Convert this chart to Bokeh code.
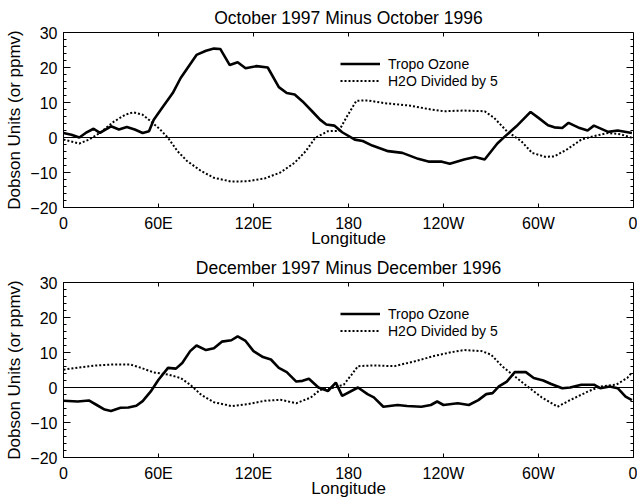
import math
from bokeh.plotting import figure
from bokeh.models import Range1d, FixedTicker, Span
from bokeh.layouts import column
from bokeh.embed import file_html
from bokeh.resources import INLINE

FONT = "Liberation Sans"

# Longitude ticks and labels
x_ticks = [0, 60, 120, 180, 240, 300, 360]
x_tick_labels = ["0", "60E", "120E", "180", "120W", "60W", "0"]
y_ticks = [-20, -10, 0, 10, 20, 30]
y_minor_ticks = list(range(-20, 31, 2))

# ---- Panel 1: October 1997 minus October 1996 ----
oct_ozone_lon = [0, 5, 10, 14, 19, 23, 30, 35, 40, 45, 50, 54, 57, 63, 69, 74, 79, 84, 90, 95,
                 99, 105, 110, 115, 122, 129, 136, 141, 146, 151, 157, 162, 166, 171, 176, 184,
                 189, 195, 205, 214, 224, 231, 239, 244, 253, 260, 266, 274, 279, 286, 295, 300,
                 306, 310, 315, 319, 326, 331, 335, 344, 350, 359]
oct_ozone_val = [1.3, 0.8, 0.0, 1.3, 2.5, 1.3, 3.2, 2.3, 3.0, 2.3, 1.3, 1.8, 5.1, 8.9, 12.7, 17.0,
                 20.3, 23.6, 24.8, 25.4, 25.3, 20.7, 21.5, 19.8, 20.4, 20.0, 14.4, 12.7, 12.3, 10.3,
                 7.5, 5.1, 3.7, 3.4, 1.5, -0.6, -1.0, -2.3, -3.9, -4.4, -6.1, -6.9, -6.9, -7.5,
                 -6.3, -5.6, -6.3, -1.7, 0.4, 3.2, 7.3, 5.6, 3.5, 2.9, 2.7, 4.2, 2.7, 2.0, 3.4,
                 1.6, 2.0, 1.3]
oct_h2o_lon = [0, 10, 16, 23, 32, 39, 44, 50, 56, 61, 66, 72, 78, 87, 95, 106, 116, 127, 137, 146,
               153, 159, 167, 174, 179, 185, 192, 203, 219, 232, 240, 253, 266, 272, 280, 289,
               296, 304, 310, 318, 327, 335, 344, 352, 359]
oct_h2o_val = [-0.6, -1.7, -0.6, 1.3, 4.6, 6.5, 7.2, 6.5, 4.3, 2.3, -0.1, -3.9, -6.7, -9.6, -11.5,
               -12.6, -12.5, -11.7, -10.0, -7.2, -3.9, -0.1, 1.8, 1.9, 6.0, 10.5, 10.6, 9.8, 9.1,
               8.0, 7.5, 7.7, 7.5, 5.6, 1.8, -1.0, -4.4, -5.5, -5.4, -3.4, -0.6, 0.4, 1.3, 0.9,
               -0.1]

# ---- Panel 2: December 1997 minus December 1996 ----
dec_ozone_lon = [0, 9, 16, 21, 26, 30, 36, 41, 46, 50, 55, 60, 66, 71, 75, 80, 84, 90, 95, 100,
                 106, 110, 115, 120, 126, 131, 136, 141, 147, 151, 155, 161, 167, 172, 176, 186,
                 192, 196, 202, 211, 217, 226, 232, 236, 240, 249, 256, 262, 267, 271, 275, 280,
                 285, 292, 297, 303, 308, 315, 320, 327, 335, 339, 345, 350, 355, 359]
dec_ozone_val = [-3.8, -4.0, -3.7, -5.0, -6.3, -6.7, -5.8, -5.7, -5.2, -3.9, -1.2, 2.2, 5.6, 5.4,
                 7.0, 10.4, 12.0, 10.7, 11.2, 13.1, 13.5, 14.6, 13.3, 10.4, 8.7, 8.0, 5.6, 4.4,
                 1.7, 1.9, 2.5, 0.0, -1.0, 1.4, -2.4, 0.0, -1.9, -2.8, -5.5, -5.0, -5.3, -5.5,
                 -5.0, -4.0, -5.0, -4.5, -5.0, -3.6, -1.9, -1.6, 0.3, 1.7, 4.4, 4.4, 2.7, 2.0,
                 1.0, -0.2, 0.0, 0.8, 0.8, -0.2, 0.3, -0.2, -2.6, -3.6]
dec_h2o_lon = [0, 11, 21, 32, 42, 49, 57, 66, 74, 80, 87, 95, 106, 116, 127, 137, 147, 156, 162,
               171, 177, 182, 186, 196, 209, 222, 234, 245, 253, 264, 270, 277, 285, 293, 302,
               312, 320, 331, 339, 349, 356, 359]
dec_h2o_val = [5.1, 5.8, 6.3, 6.6, 6.6, 5.6, 4.3, 3.7, 2.7, 0.8, -2.1, -4.2, -5.3, -4.8, -3.8,
               -3.5, -4.5, -2.9, -0.7, 0.0, 0.8, 3.7, 6.1, 6.3, 6.1, 7.5, 9.0, 10.1, 10.7, 10.4,
               9.4, 6.1, 3.2, 0.3, -2.8, -5.5, -3.6, -1.2, 0.3, 0.8, 2.7, 4.3]


def style_axis(ax, minor, major_in):
    ax.axis_line_color = "black"
    ax.axis_line_width = 1
    ax.major_tick_in = major_in
    ax.major_tick_out = 0
    ax.minor_tick_in = minor
    ax.minor_tick_out = 0
    ax.major_tick_line_color = "black"
    ax.minor_tick_line_color = "black" if minor else None
    ax.major_label_text_font = FONT
    ax.major_label_text_color = "black"
    ax.major_label_text_font_size = "16px"
    ax.axis_label_text_font = FONT
    ax.axis_label_text_font_size = "17px"
    ax.axis_label_text_font_style = "normal"
    ax.axis_label_text_color = "black"


def make_panel(title, lon_o, val_o, lon_h, val_h, height, bottom_border):
    p = figure(width=637, height=height, x_range=Range1d(0, 360), y_range=Range1d(-20, 30),
               output_backend="svg", toolbar_location=None,
               min_border_left=63, min_border_right=4, min_border_top=32,
               min_border_bottom=bottom_border, title=title)
    p.title.text_font = FONT
    p.title.text_font_size = "17.5px"
    p.title.text_font_style = "normal"
    p.title.text_color = "black"
    p.title.align = "center"
    p.xgrid.visible = False
    p.ygrid.visible = False
    p.outline_line_color = "black"
    p.outline_line_width = 1
    p.background_fill_color = "white"
    p.border_fill_color = "white"

    xa = p.xaxis[0]
    xa.ticker = FixedTicker(ticks=x_ticks, minor_ticks=[])
    xa.major_label_overrides = {t: l for t, l in zip(x_ticks, x_tick_labels)}
    style_axis(xa, 0, 4)
    xa.major_label_standoff = 7
    xa.axis_label = "Longitude"
    xa.axis_label_standoff = -6

    ya = p.yaxis[0]
    ya.ticker = FixedTicker(ticks=y_ticks, minor_ticks=y_minor_ticks)
    style_axis(ya, 3, 7)
    ya.major_label_standoff = 6
    ya.axis_label = "Dobson Units (or ppmv)"
    ya.axis_label_standoff = 3

    # inward ticks on the top and right edges of the box
    y_top = y_ticks[-1]
    x_right = x_ticks[-1]
    p.ray(x=x_ticks, y=[y_top] * len(x_ticks), length=4, length_units="screen",
          angle=-math.pi / 2, line_color="black", line_width=1)
    p.ray(x=[x_right] * len(y_ticks), y=y_ticks, length=7, length_units="screen",
          angle=math.pi, line_color="black", line_width=1)
    p.ray(x=[x_right] * len(y_minor_ticks), y=y_minor_ticks, length=3, length_units="screen",
          angle=math.pi, line_color="black", line_width=1)

    p.add_layout(Span(location=0, dimension="width", line_color="black", line_width=1))

    p.line(lon_o, val_o, line_color="black", line_width=2.6, legend_label="Tropo Ozone")
    p.line(lon_h, val_h, line_color="black", line_width=2, line_dash="2 2",
           legend_label="H2O Divided by 5")

    lg = p.legend[0]
    lg.location = (277, 118)
    lg.border_line_alpha = 0
    lg.background_fill_alpha = 0
    lg.padding = 0
    lg.margin = 0
    lg.spacing = 0
    lg.glyph_width = 40
    lg.glyph_height = 17
    lg.label_height = 17
    lg.label_standoff = 8
    lg.label_text_font = FONT
    lg.label_text_font_size = "14px"
    lg.label_text_color = "black"
    return p


p1 = make_panel("October 1997 Minus October 1996", oct_ozone_lon, oct_ozone_val,
                oct_h2o_lon, oct_h2o_val, 250, 42)
p2 = make_panel("December 1997 Minus December 1996", dec_ozone_lon, dec_ozone_val,
                dec_h2o_lon, dec_h2o_val, 251, 44)

layout = column(p1, p2, spacing=0)
open("out.html", "w").write(file_html(layout, INLINE))
